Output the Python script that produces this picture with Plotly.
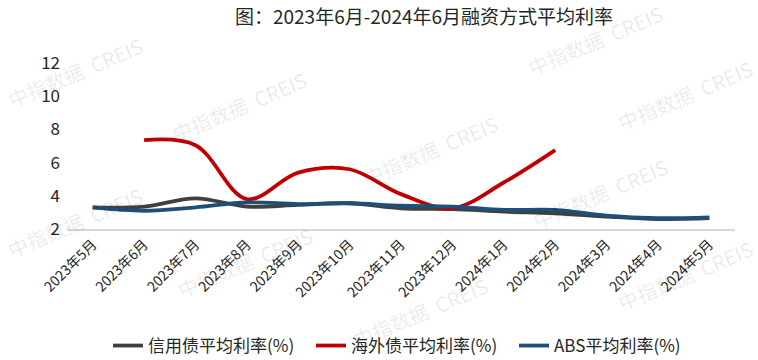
import plotly.graph_objects as go

categories = ["2023年5月", "2023年6月", "2023年7月", "2023年8月", "2023年9月", "2023年10月",
              "2023年11月", "2023年12月", "2024年1月", "2024年2月", "2024年3月", "2024年4月", "2024年5月"]
credit_bond = [3.3, 3.35, 3.85, 3.35, 3.45, 3.55, 3.25, 3.2, 3.05, 2.95, 2.75, 2.6, 2.65]
overseas_bond = [None, 7.35, 7.05, 3.8, 5.4, 5.6, 4.1, 3.25, 4.8, 6.75, None, None, None]
abs_rate = [3.3, 3.1, 3.3, 3.6, 3.5, 3.55, 3.4, 3.35, 3.15, 3.15, 2.8, 2.65, 2.7]
y_ticks = [2, 4, 6, 8, 10, 12]

series = [
    ("信用债平均利率(%)", credit_bond, "#404040"),
    ("海外债平均利率(%)", overseas_bond, "#C00000"),
    ("ABS平均利率(%)", abs_rate, "#1F4E79"),
]

FONT = "Noto Sans CJK SC"
W, H = 758, 360
L, R, T, B = 67, 23, 63, 131

fig = go.Figure()
for name, vals, color in series:
    fig.add_trace(go.Scatter(
        x=categories, y=vals, name=name, mode="lines",
        line=dict(color=color, width=3.8, shape="spline", smoothing=1.0),
        connectgaps=False,
    ))

# watermarks (container pixel centres), kept fully inside the canvas
wm = [(75, 72), (239, 106), (75, 222), (430, 150), (600, 193), (595, 40),
      (685, 95), (245, 262), (420, 312), (685, 275)]
pw, ph = W - L - R, H - T - B
for cx, cy in wm:
    fig.add_annotation(
        x=(cx - L) / pw, y=1 - (cy - T) / ph, xref="paper", yref="paper",
        text="中指数据  CREIS", showarrow=False, textangle=-23,
        font=dict(family=FONT, size=20, color="rgba(0,0,0,0.09)"),
        xanchor="center", yanchor="middle",
    )

fig.update_layout(
    width=W, height=H,
    margin=dict(l=L, r=R, t=T, b=B, autoexpand=False),
    paper_bgcolor="white", plot_bgcolor="white",
    font=dict(family=FONT, color="#262626"),
    title=dict(text="图：2023年6月-2024年6月融资方式平均利率", x=424 / W, xanchor="center",
               y=1 - 17 / H, yanchor="middle", xref="container", yref="container",
               font=dict(family=FONT, size=19, color="#262626")),
    showlegend=True,
    legend=dict(orientation="h", x=(108 - L) / pw, xanchor="left",
                y=-(346 - (H - B)) / ph, yanchor="middle",
                font=dict(family=FONT, size=17, color="#262626"),
                itemwidth=30, entrywidth=158, entrywidthmode="pixels",
                tracegroupgap=0, bgcolor="rgba(0,0,0,0)"),
)
fig.update_xaxes(
    type="category", range=[-0.5, len(categories) - 0.5],
    showline=True, linecolor="#D9D9D9", linewidth=1.5,
    showgrid=False, ticks="", tickangle=-45,
    tickfont=dict(family=FONT, size=14, color="#262626"),
    zeroline=False, automargin=False,
)
fig.update_yaxes(
    range=[2, 12], tickvals=y_ticks, ticktext=[str(v) for v in y_ticks],
    showgrid=False, showline=False, zeroline=False, ticks="",
    tickfont=dict(family=FONT, size=17, color="#262626"),
    ticklabelstandoff=6, automargin=False,
)

fig.write_html("out.html", config={"displayModeBar": False},
               post_script="document.body.style.margin='0';document.body.style.overflow='hidden';")
